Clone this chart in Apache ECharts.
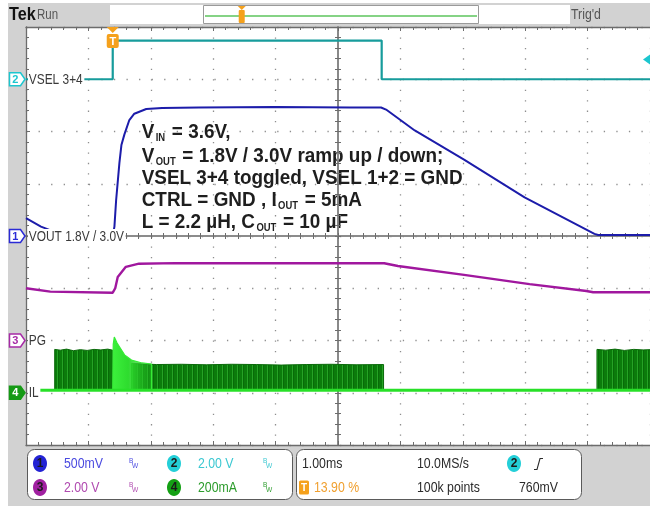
<!DOCTYPE html>
<html>
<head>
<meta charset="utf-8">
<title>VOUT ramp up / down</title>
<script src="https://cdn.jsdelivr.net/npm/echarts@6.0.0/dist/echarts.min.js"></script>
<style>
  html, body { margin: 0; padding: 0; background: #ffffff; }
  #scope { width: 650px; height: 506px; }
</style>
</head>
<body>
<div id="scope"></div>
<script>
// ---------- acquisition data (time in ms relative to the trigger) ----------
const vselTimeMs = [-1.39, 0.00, 0.00, 4.31, 4.31, 8.61];
const vselVolts  = [0.00, 0.00, 1.48, 1.48, 0.00, 0.00];

const voutTimeMs = [-1.39, -1.15, -0.85, -0.40, 0.00, 0.027, 0.054, 0.107, 0.139, 0.186, 0.266, 0.346, 0.537, 0.791, 1.38, 2.60, 3.80, 4.30, 4.38, 4.84, 5.63, 6.60, 7.72, 7.78, 8.61];
const voutVolts  = [1.97, 1.89, 1.82, 1.80, 1.80, 1.89, 2.14, 2.50, 2.67, 2.77, 2.91, 2.97, 3.015, 3.025, 3.03, 3.035, 3.03, 3.03, 3.01, 2.81, 2.53, 2.17, 1.82, 1.81, 1.81];

const pgTimeMs = [-1.39, -1.00, 0.00, 0.04, 0.08, 0.21, 0.42, 1.00, 4.35, 4.57, 5.63, 6.68, 7.59, 7.70, 8.61];
const pgVolts  = [2.00, 1.87, 1.83, 2.00, 2.43, 2.82, 2.94, 2.96, 2.955, 2.85, 2.51, 2.16, 1.895, 1.845, 1.845];

const ilBaseTimeMs = [-1.22, 8.61];
const ilBaseMa     = [10, 10];

const ilBurst1TimeMs = [-0.93, -0.93, -0.84, -0.74, -0.63, -0.52, -0.41, -0.30, -0.19, -0.08, 0.00, 0.00];
const ilBurst1Ma     = [10, 166, 163, 167, 161, 165, 162, 166, 164, 167, 163, 10];

const ilSpikeTimeMs = [0.00, 0.008, 0.025, 0.07, 0.11, 0.19, 0.30, 0.47, 0.62, 0.62];
const ilSpikeMa     = [10, 185, 213, 190, 175, 145, 125, 114, 110, 10];

const ilBurst2TimeMs = [0.30, 0.30, 0.70, 1.10, 1.50, 1.90, 2.30, 2.70, 3.10, 3.50, 3.90, 4.34, 4.34];
const ilBurst2Ma     = [10, 112, 108, 109, 107, 109, 108, 106, 108, 109, 107, 108, 10];

const ilBurst3TimeMs = [7.76, 7.76, 7.90, 8.05, 8.20, 8.35, 8.50, 8.61];
const ilBurst3Ma     = [10, 166, 163, 167, 162, 166, 164, 165];

// ---------- scope settings ----------
const timePerDivMs = 1.00;
const triggerPositionPct = 13.90;
const triggerLevelMv = 760;
const sampleRateText = '10.0MS/s';
const recordLengthText = '100k points';
const timebaseText = '1.00ms';

const chName      = {1: 'VOUT 1.8V / 3.0V', 2: 'VSEL 3+4', 3: 'PG', 4: 'IL'};
const chScale     = {1: 0.5, 2: 2.0, 3: 2.0, 4: 200};     // units per division
const chScaleText = {1: '500mV', 2: '2.00 V', 3: '2.00 V', 4: '200mA'};
const chRefValue  = {1: 1.8, 2: 0, 3: 0, 4: 0};            // value at the channel marker
const chRefDiv    = {1: 0, 2: 3, 3: -2, 4: -3};            // marker height in divisions

const noteLines = [
  [['V', 0], ['IN', 1], [' = 3.6V,', 0]],
  [['V', 0], ['OUT', 1], [' = 1.8V / 3.0V ramp up / down;', 0]],
  [['VSEL 3+4 toggled, VSEL 1+2 = GND', 0]],
  [['CTRL = GND , I', 0], ['OUT', 1], [' = 5mA', 0]],
  [['L = 2.2 \u00b5H, C', 0], ['OUT', 1], [' = 10 \u00b5F', 0]]
];

// ---------- styling ----------
const SANS = "'Liberation Sans',Arial,sans-serif";
const NARROW_SCALE = 0.82;   // condensed instrument lettering
const COL = {
  ch1: '#1c1caa', ch1m: '#2b2bd6',
  ch2: '#179c9c', ch2m: '#1cc6cf',
  ch3: '#a0179e', ch3m: '#a62aa6',
  ch4: '#28e028', ch4m: '#159a15',
  orange: '#f5a11c', frame: '#6c6c6c', dots: '#8e8e8e', center: '#858585'
};

const pairs = (xs, ys) => xs.map((x, i) => [x, ys[i]]);

const tMin = -triggerPositionPct / 100 * 10 * timePerDivMs;
const tMax = tMin + 10 * timePerDivMs;

function chAxis(ch) {
  return {
    type: 'value', show: false,
    min: chRefValue[ch] - (4 + chRefDiv[ch]) * chScale[ch],
    max: chRefValue[ch] + (4 - chRefDiv[ch]) * chScale[ch]
  };
}

function stripeCanvas(colors) {
  const c = document.createElement('canvas');
  c.width = colors.length; c.height = 4;
  const g = c.getContext('2d');
  colors.forEach((col, i) => { g.fillStyle = col; g.fillRect(i, 0, 1, 4); });
  return c;
}
const burstFill = { image: stripeCanvas(['#0b7c0b', '#0b7c0b', '#26a326', '#086c08', '#0b7c0b']), repeat: 'repeat' };

const tickStyle = { color: COL.frame, width: 1 };
const divBase = {
  type: 'value', interval: 1, silent: true,
  axisLabel: { show: false }, splitLine: { show: false }, minorSplitLine: { show: false }
};

const xAxes = [
  Object.assign({}, divBase, {
    min: -5, max: 5, position: 'bottom',
    axisLine: { show: true, onZero: false, lineStyle: { color: COL.frame, width: 1.3 } },
    axisTick: { show: true, inside: true, length: 4, lineStyle: tickStyle },
    minorTick: { show: true, splitNumber: 5, length: 3, lineStyle: tickStyle },
    splitLine: { show: true, lineStyle: { color: COL.dots, width: 1.3, type: [1.3, 9.15] } }
  }),
  Object.assign({}, divBase, {
    min: -5, max: 5, position: 'top',
    axisLine: { show: true, onZero: false, lineStyle: { color: COL.frame, width: 1.3 } },
    axisTick: { show: true, inside: true, length: 4, lineStyle: tickStyle },
    minorTick: { show: true, splitNumber: 5, length: 3, lineStyle: tickStyle }
  }),
  Object.assign({}, divBase, {
    min: -5, max: 5, position: 'bottom',
    axisLine: { show: true, onZero: true, onZeroAxisIndex: 0, lineStyle: { color: COL.center, width: 1.6 } },
    axisTick: { show: true, inside: true, length: 3, lineStyle: tickStyle },
    minorTick: { show: true, splitNumber: 5, length: 3, lineStyle: tickStyle }
  }),
  Object.assign({}, divBase, {
    min: -5, max: 5, position: 'bottom',
    axisLine: { show: true, onZero: true, onZeroAxisIndex: 0, lineStyle: { color: COL.center, width: 1.6 } },
    axisTick: { show: true, inside: false, length: 3, lineStyle: tickStyle },
    minorTick: { show: true, splitNumber: 5, length: 3, lineStyle: tickStyle }
  }),
  { type: 'value', show: false, min: tMin, max: tMax }
];

const yAxes = [
  Object.assign({}, divBase, {
    min: -4, max: 4, position: 'left',
    axisLine: { show: true, onZero: false, lineStyle: { color: COL.frame, width: 1.3 } },
    axisTick: { show: true, inside: true, length: 4, lineStyle: tickStyle },
    minorTick: { show: true, splitNumber: 5, length: 3, lineStyle: tickStyle },
    splitLine: { show: true, lineStyle: { color: COL.dots, width: 1.3, type: [1.3, 11.26] } }
  }),
  Object.assign({}, divBase, {
    min: -4, max: 4, position: 'left',
    axisLine: { show: true, onZero: true, onZeroAxisIndex: 0, lineStyle: { color: COL.center, width: 1.6 } },
    axisTick: { show: true, inside: true, length: 3, lineStyle: tickStyle },
    minorTick: { show: true, splitNumber: 5, length: 3, lineStyle: tickStyle }
  }),
  Object.assign({}, divBase, {
    min: -4, max: 4, position: 'left',
    axisLine: { show: true, onZero: true, onZeroAxisIndex: 0, lineStyle: { color: COL.center, width: 1.6 } },
    axisTick: { show: true, inside: false, length: 3, lineStyle: tickStyle },
    minorTick: { show: true, splitNumber: 5, length: 3, lineStyle: tickStyle }
  }),
  chAxis(1), chAxis(2), chAxis(3), chAxis(4)
];

const lineBase = { type: 'line', xAxisIndex: 4, symbol: 'none', silent: true, animation: false, clip: true };

const series = [
  Object.assign({}, lineBase, { name: 'IL burst 1', yAxisIndex: 6, z: 3,
    data: pairs(ilBurst1TimeMs, ilBurst1Ma),
    lineStyle: { color: '#0a6a0a', width: 1 },
    areaStyle: { color: burstFill, opacity: 1, origin: 10 } }),
  Object.assign({}, lineBase, { name: 'IL burst 2', yAxisIndex: 6, z: 3,
    data: pairs(ilBurst2TimeMs, ilBurst2Ma),
    lineStyle: { color: '#0a6a0a', width: 1 },
    areaStyle: { color: burstFill, opacity: 1, origin: 10 } }),
  Object.assign({}, lineBase, { name: 'IL burst 3', yAxisIndex: 6, z: 3,
    data: pairs(ilBurst3TimeMs, ilBurst3Ma),
    lineStyle: { color: '#0a6a0a', width: 1 },
    areaStyle: { color: burstFill, opacity: 1, origin: 10 } }),
  Object.assign({}, lineBase, { name: 'IL inrush', yAxisIndex: 6, z: 4,
    data: pairs(ilSpikeTimeMs, ilSpikeMa),
    lineStyle: { color: '#36ec36', width: 1.2 },
    areaStyle: { origin: 10, opacity: 1, color: { type: 'linear', x: 0, y: 0, x2: 1, y2: 0,
      colorStops: [{ offset: 0, color: '#3cf03c' }, { offset: 0.4, color: '#2edc2e' }, { offset: 1, color: 'rgba(34,190,34,0.35)' }] } } }),
  Object.assign({}, lineBase, { name: 'IL', yAxisIndex: 6, z: 5,
    data: pairs(ilBaseTimeMs, ilBaseMa), lineStyle: { color: COL.ch4, width: 3 } }),
  Object.assign({}, lineBase, { name: 'PG', yAxisIndex: 5, z: 6,
    data: pairs(pgTimeMs, pgVolts), lineStyle: { color: COL.ch3, width: 2.4 } }),
  Object.assign({}, lineBase, { name: 'VSEL 3+4', yAxisIndex: 4, z: 6,
    data: pairs(vselTimeMs, vselVolts), lineStyle: { color: COL.ch2, width: 2.2 } }),
  Object.assign({}, lineBase, { name: 'VOUT', yAxisIndex: 3, z: 7,
    data: pairs(voutTimeMs, voutVolts), lineStyle: { color: COL.ch1, width: 2 } })
];

const chart = echarts.init(document.getElementById('scope'), null, { renderer: 'canvas' });
chart.setOption({
  backgroundColor: '#d2d2d2',
  animation: false,
  grid: { left: 26, top: 27, width: 628, height: 418, show: true, backgroundColor: '#ffffff', borderWidth: 0, containLabel: false },
  xAxis: xAxes,
  yAxis: yAxes,
  series: series
});

// ---------- overlay: markers, labels, readouts ----------
const chAxisIndex = {1: 3, 2: 4, 3: 5, 4: 6};
function px(ch, t, v) {
  return chart.convertToPixel({ xAxisIndex: 4, yAxisIndex: chAxisIndex[ch] }, [t, v]);
}

const measureCtx = document.createElement('canvas').getContext('2d');
function textWidth(str, font) { measureCtx.font = font; return measureCtx.measureText(str).width; }

const els = [];
// condensed text: regular sans squeezed horizontally
function narrowText(x, y, txt, size, color, z, extra) {
  els.push({ type: 'text', x: x, y: y, scaleX: NARROW_SCALE, z: z,
    style: Object.assign({ text: txt, fontFamily: SANS, fontSize: size, fill: color, verticalAlign: 'middle' }, extra || {}) });
}

// page margins
els.push({ type: 'rect', shape: { x: 0, y: 0, width: 8, height: 506 }, style: { fill: '#ffffff' }, z: 1 });
els.push({ type: 'rect', shape: { x: 0, y: 0, width: 650, height: 3 }, style: { fill: '#ffffff' }, z: 1 });

// header
els.push({ type: 'text', x: 9, y: 15, scaleX: 0.9, style: { text: 'Tek', fontFamily: SANS, fontWeight: 'bold', fontSize: 18, fill: '#111', verticalAlign: 'middle' }, z: 50 });
narrowText(37, 15, 'Run', 14, '#555', 50);
els.push({ type: 'rect', shape: { x: 110, y: 5, width: 460, height: 19 }, style: { fill: '#ffffff' }, z: 50 });
els.push({ type: 'rect', shape: { x: 203.5, y: 5.5, width: 275, height: 18 }, style: { fill: '#ffffff', stroke: '#9a9a9a', lineWidth: 1 }, z: 51 });
els.push({ type: 'line', shape: { x1: 205, y1: 16, x2: 477, y2: 16 }, style: { stroke: '#5cc45c', lineWidth: 1.6 }, z: 52 });
const recX = 203.5 + triggerPositionPct / 100 * 275;
els.push({ type: 'polygon', shape: { points: [[recX - 4, 6], [recX + 4, 6], [recX, 10]] }, style: { fill: COL.orange }, z: 53 });
els.push({ type: 'rect', shape: { x: recX - 3, y: 10, width: 6, height: 13, r: 1 }, style: { fill: COL.orange }, z: 53 });
narrowText(571, 15, "Trig'd", 15, '#555', 50);

// trigger time marker
const trigX = px(2, 0, 0)[0];
els.push({ type: 'polygon', shape: { points: [[trigX - 6, 27], [trigX + 6, 27], [trigX, 33]] }, style: { fill: COL.orange }, z: 60 });
els.push({ type: 'rect', shape: { x: trigX - 6, y: 34, width: 12, height: 14, r: 2 }, style: { fill: COL.orange }, z: 60 });
els.push({ type: 'text', x: trigX, y: 41.5, style: { text: 'T', fontFamily: SANS, fontWeight: 'bold', fontSize: 11, fill: '#ffffff', align: 'center', verticalAlign: 'middle' }, z: 61 });

// trigger level marker on the right edge
const trigLevelY = px(2, 0, triggerLevelMv / 1000)[1];
els.push({ type: 'polygon', shape: { points: [[650, trigLevelY - 5], [650, trigLevelY + 5], [643, trigLevelY]] }, style: { fill: COL.ch2m }, z: 60 });

// channel markers and names
const markerStyle = {
  1: { stroke: COL.ch1m, fill: '#ffffff', text: COL.ch1m },
  2: { stroke: COL.ch2m, fill: '#ffffff', text: COL.ch2m },
  3: { stroke: COL.ch3m, fill: '#ffffff', text: COL.ch3m },
  4: { stroke: COL.ch4m, fill: COL.ch4m, text: '#ffffff' }
};
[1, 2, 3, 4].forEach(ch => {
  const y = px(ch, 0, chRefValue[ch])[1];
  const m = markerStyle[ch];
  els.push({ type: 'polygon', shape: { points: [[9.5, y - 6.5], [20.5, y - 6.5], [25, y], [20.5, y + 6.5], [9.5, y + 6.5]] },
    style: { fill: m.fill, stroke: m.stroke, lineWidth: 1.5 }, z: 70 });
  els.push({ type: 'text', x: 15.3, y: y + 0.5, style: { text: String(ch), fontFamily: SANS, fontWeight: 'bold', fontSize: 11, fill: m.text, align: 'center', verticalAlign: 'middle' }, z: 71 });
  narrowText(28, y + 0.5, chName[ch], 14.5, '#3a3a3a', 70, { backgroundColor: '#ffffff', padding: [0, 2, 0, 1] });
});

// annotation block
const mainFont = 'bold 20px "Liberation Sans"';
const subFont = 'bold 10px "Liberation Sans"';
const noteY = [132, 156, 178.5, 200, 222];
const noteChildren = [];
noteLines.forEach((segs, li) => {
  let cx = 0;
  segs.forEach(([txt, sub]) => {
    if (sub) {
      cx += 1.5;
      noteChildren.push({ type: 'text', x: cx, y: noteY[li] + 6.5, style: { text: txt, fontFamily: SANS, fontWeight: 'bold', fontSize: 10, fill: '#1e1e1e', verticalAlign: 'middle' } });
      cx += textWidth(txt, subFont) + 1.5;
    } else {
      noteChildren.push({ type: 'text', x: cx, y: noteY[li], style: { text: txt, fontFamily: SANS, fontWeight: 'bold', fontSize: 20, fill: '#1e1e1e', verticalAlign: 'middle' } });
      cx += textWidth(txt, mainFont);
    }
  });
});
els.push({ type: 'group', x: 141.7, y: 0, scaleX: 0.945, children: noteChildren, z: 80 });

// readout panels
els.push({ type: 'rect', shape: { x: 27.5, y: 449.5, width: 265, height: 50, r: 7 }, style: { fill: '#ffffff', stroke: '#5a5a5a', lineWidth: 1 }, z: 50 });
els.push({ type: 'rect', shape: { x: 296.5, y: 449.5, width: 285, height: 50, r: 7 }, style: { fill: '#ffffff', stroke: '#5a5a5a', lineWidth: 1 }, z: 50 });

const row1 = 463.5, row2 = 487.5;
const badge = (x, y, num, fill) => {
  els.push({ type: 'ellipse', shape: { cx: x, cy: y, rx: 7, ry: 8.5 }, style: { fill: fill }, z: 52 });
  els.push({ type: 'text', x: x, y: y + 0.5, style: { text: num, fontFamily: SANS, fontWeight: 'bold', fontSize: 12, fill: '#1a1a1a', align: 'center', verticalAlign: 'middle' }, z: 53 });
};
const readout = (x, y, txt, color) => narrowText(x, y, txt, 15, color, 52);
const bwIcon = (x, y, color) => {
  narrowText(x, y - 3, 'B', 8, color, 52);
  narrowText(x + 3, y + 2, 'W', 8, color, 52);
};
const panelColor = { 1: '#4a4ae0', 2: '#3cc8d2', 3: '#b04ab0', 4: '#2c9c2c' };
const badgeColor = { 1: '#2323d4', 2: '#24cfd8', 3: '#a020a0', 4: '#14a014' };
[[1, 40, row1], [2, 174, row1], [3, 40, row2], [4, 174, row2]].forEach(([ch, x, y]) => {
  badge(x, y, String(ch), badgeColor[ch]);
  readout(x + 24, y, chScaleText[ch], panelColor[ch]);
  bwIcon(x + 89, y, panelColor[ch]);
});

readout(302, row1, timebaseText, '#2a2a2a');
readout(417, row1, sampleRateText, '#2a2a2a');
badge(514, row1, '2', badgeColor[2]);
els.push({ type: 'polyline', shape: { points: [[534, row1 + 6], [537, row1 + 6], [540, row1 - 5], [543, row1 - 5]] }, style: { stroke: '#2a2a2a', lineWidth: 1.1, fill: null }, z: 52 });
els.push({ type: 'rect', shape: { x: 299, y: row2 - 7, width: 10, height: 14, r: 1.5 }, style: { fill: COL.orange }, z: 52 });
els.push({ type: 'text', x: 304, y: row2 + 0.5, style: { text: 'T', fontFamily: SANS, fontWeight: 'bold', fontSize: 10, fill: '#ffffff', align: 'center', verticalAlign: 'middle' }, z: 53 });
readout(314, row2, triggerPositionPct.toFixed(2) + ' %', '#f0a030');
readout(417, row2, recordLengthText, '#2a2a2a');
readout(519, row2, triggerLevelMv + 'mV', '#2a2a2a');

chart.setOption({ graphic: { elements: els } });
</script>
</body>
</html>
